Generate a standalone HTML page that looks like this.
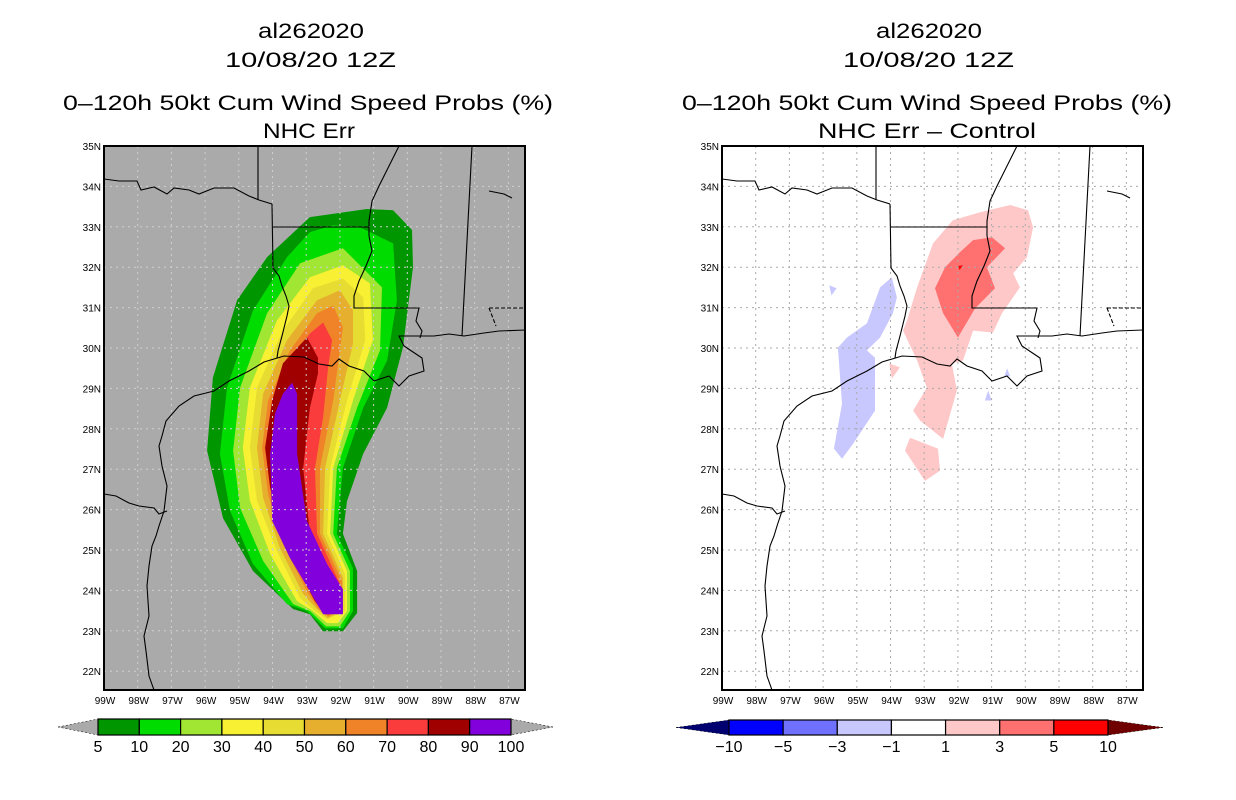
<!DOCTYPE html>
<html><head><meta charset="utf-8">
<style>
html,body{margin:0;padding:0;background:#fff;}
svg{display:block;font-family:"Liberation Sans",sans-serif;}
</style></head>
<body>
<svg id="fig" width="1236" height="800" viewBox="0 0 1236 800" xmlns="http://www.w3.org/2000/svg">
<g font-size="21" fill="#000" lengthAdjust="spacingAndGlyphs">
<text x="258" y="38" textLength="106" lengthAdjust="spacingAndGlyphs">al262020</text>
<text x="225" y="67" textLength="171" lengthAdjust="spacingAndGlyphs">10/08/20 12Z</text>
<text x="63" y="110" textLength="490" lengthAdjust="spacingAndGlyphs">0–120h 50kt Cum Wind Speed Probs (%)</text>
<text x="263" y="138" textLength="92" lengthAdjust="spacingAndGlyphs">NHC Err</text>
</g>
<g font-size="21" fill="#000">
<text x="876" y="38" textLength="106" lengthAdjust="spacingAndGlyphs">al262020</text>
<text x="843" y="67" textLength="171" lengthAdjust="spacingAndGlyphs">10/08/20 12Z</text>
<text x="682" y="110" textLength="490" lengthAdjust="spacingAndGlyphs">0–120h 50kt Cum Wind Speed Probs (%)</text>
<text x="818" y="138" textLength="218" lengthAdjust="spacingAndGlyphs">NHC Err – Control</text>
</g>
<g id="left"></g>
<g id="right"></g>
<g id="cbl"></g>
<g id="cbr"></g>
</svg>
<script>
// ---- data ----
const lonTicks=[-99,-98,-97,-96,-95,-94,-93,-92,-91,-90,-89,-88,-87];
const latTicks=[35,34,33,32,31,30,29,28,27,26,25,24,23,22];
const probLevels=[5,10,20,30,40,50,60,70,80,90,100];
const probColors=["#009600","#00dc00","#a0e632","#f8f032","#e6dc32","#e6af2d","#f08228","#fa3c3c","#a00000","#8200dc"];
const diffLevels=[-10,-5,-3,-1,1,3,5,10];
const diffColors=["#0000ff","#7070ff","#c8c8ff","#ffffff","#ffc8c8","#ff7070","#ff0000"];
const p5=[[-92.89,33.24],[-91.2,33.44],[-90.42,33.41],[-89.86,32.92],[-89.83,32.0],[-90.13,30.01],[-90.6,28.52],[-91.31,27.38],[-91.79,26.21],[-91.91,25.4],[-91.49,24.48],[-91.49,23.44],[-91.91,22.99],[-92.5,22.99],[-92.89,23.41],[-93.39,23.54],[-94.58,24.48],[-95.47,25.79],[-95.94,27.46],[-95.77,29.27],[-95.05,31.18],[-94.16,32.25]];
const p10=[[-92.2,33.04],[-91.4,32.99],[-90.42,32.59],[-90.31,31.18],[-90.6,29.69],[-91.31,28.52],[-91.91,27.03],[-92.09,25.4],[-91.61,24.55],[-91.61,23.49],[-91.91,23.06],[-92.44,23.06],[-92.98,23.49],[-93.57,23.66],[-94.58,24.65],[-95.26,25.97],[-95.56,27.38],[-95.35,29.02],[-94.58,30.93],[-93.57,32.25],[-92.89,32.87]];
const p20=[[-91.91,32.47],[-90.75,31.5],[-90.81,29.94],[-91.49,28.52],[-92.09,27.03],[-92.2,25.4],[-91.7,24.48],[-91.7,23.49],[-92.0,23.11],[-92.41,23.11],[-92.89,23.49],[-93.39,23.66],[-94.28,24.73],[-94.96,26.04],[-95.17,27.46],[-94.96,29.02],[-94.16,30.86],[-93.18,32.1]];
const p30=[[-91.91,32.05],[-91.11,31.6],[-91.02,30.19],[-91.61,28.7],[-92.2,27.03],[-92.29,25.4],[-91.79,24.48],[-91.79,23.49],[-92.06,23.19],[-92.38,23.19],[-92.8,23.49],[-93.27,23.73],[-94.07,24.9],[-94.67,26.22],[-94.88,27.53],[-94.67,29.02],[-93.87,30.68],[-92.89,31.75]];
const p40=[[-91.91,31.72],[-91.31,31.25],[-91.25,30.19],[-91.79,28.7],[-92.29,27.03],[-92.38,25.4],[-91.85,24.4],[-91.85,23.49],[-92.38,23.29],[-92.74,23.49],[-93.18,23.81],[-93.87,24.98],[-94.46,26.22],[-94.67,27.53],[-94.46,29.02],[-93.69,30.43],[-92.8,31.48]];
const p50=[[-92.0,31.43],[-91.61,30.93],[-91.61,30.11],[-92.0,28.7],[-92.44,27.03],[-92.5,25.4],[-91.91,24.31],[-91.91,23.54],[-92.35,23.31],[-92.68,23.54],[-93.09,23.91],[-93.78,25.05],[-94.28,26.29],[-94.46,27.53],[-94.28,28.87],[-93.57,30.19],[-92.68,31.18]];
const p60=[[-92.2,31.05],[-91.91,30.51],[-92.0,29.94],[-92.2,28.7],[-92.59,27.03],[-92.59,25.4],[-91.94,24.23],[-91.94,23.54],[-92.35,23.36],[-92.65,23.56],[-92.98,23.98],[-93.69,25.15],[-94.13,26.39],[-94.31,27.53],[-94.13,28.7],[-93.48,29.94],[-92.68,30.86]];
const p70=[[-92.5,30.63],[-92.23,30.19],[-92.35,29.52],[-92.5,28.28],[-92.74,27.03],[-92.68,25.4],[-92.0,24.16],[-92.0,23.54],[-92.35,23.39],[-92.59,23.61],[-92.89,24.06],[-93.54,25.22],[-93.98,26.39],[-94.22,27.53],[-94.01,28.7],[-93.48,29.69],[-92.89,30.36]];
const p80=[[-92.98,30.26],[-92.65,29.76],[-92.65,29.37],[-92.89,28.52],[-93.09,27.03],[-92.89,25.4],[-92.09,24.06],[-91.94,23.49],[-92.44,23.41],[-92.74,23.73],[-93.27,24.55],[-93.69,25.4],[-94.07,26.54],[-94.22,27.53],[-94.01,28.7],[-93.69,29.62]];
const p90=[[-93.42,29.14],[-93.27,28.87],[-93.27,27.38],[-92.98,25.72],[-92.38,24.65],[-91.91,24.03],[-91.91,23.41],[-92.5,23.41],[-92.89,23.98],[-93.48,24.8],[-94.01,25.72],[-94.07,27.38],[-93.93,28.37],[-93.69,28.87]];
const probPolys=[p5,p10,p20,p30,p40,p50,p60,p70,p80,p90];
const dNeg1=[[-93.96,31.75],[-93.81,31.25],[-93.93,30.86],[-94.31,30.26],[-94.7,29.94],[-94.46,29.76],[-94.46,28.45],[-95.11,27.63],[-95.44,27.26],[-95.68,27.51],[-95.44,28.62],[-95.56,30.01],[-95.29,30.26],[-94.7,30.61],[-94.31,31.5]];
const dNeg2=[[-95.82,31.55],[-95.6,31.48],[-95.75,31.3]];
const dNeg3=[[-90.54,29.5],[-90.45,29.3],[-90.62,29.3]];
const dNeg4=[[-91.1,28.95],[-91.0,28.7],[-91.2,28.7]];
const dPos1=[[-90.45,33.54],[-89.92,33.41],[-89.77,32.99],[-89.95,32.25],[-90.36,31.85],[-90.16,31.5],[-90.69,30.86],[-90.96,30.38],[-91.55,30.43],[-91.85,29.69],[-92.18,29.62],[-92.03,28.95],[-92.44,27.75],[-93.12,28.2],[-93.33,28.45],[-92.92,29.02],[-93.21,29.69],[-93.63,30.43],[-93.51,30.68],[-93.21,31.5],[-92.74,32.59],[-92.15,33.16],[-91.34,33.36]];
const dPos2=[[-94.04,29.62],[-93.72,29.52],[-93.96,29.24]];
const dPos3=[[-93.42,27.78],[-92.59,27.51],[-92.53,26.96],[-92.98,26.71],[-93.57,27.46]];
const dSal=[[-91.55,32.67],[-90.99,32.74],[-90.6,32.47],[-91.14,32.0],[-90.9,31.48],[-91.49,30.98],[-92.0,30.26],[-92.44,30.86],[-92.68,31.48],[-92.38,32.0],[-91.94,32.37]];
const dRed=[[-92.0,32.03],[-91.85,32.05],[-91.95,31.93]];
const diffPolys=[[dNeg1,2],[dNeg2,2],[dNeg3,2],[dNeg4,2],[dPos1,4],[dPos2,4],[dPos3,4],[dSal,5],[dRed,6]];

// ---- layout ----
const MAPW=421,MAPH=544,TOP=146;
const LON0=-99,LAT0=35,DX=33.7,DY=40.4;
function xs(x0,lon){return x0+(lon-LON0)*DX;}
function ys(lat){return TOP+(LAT0-lat)*DY;}
const NS="http://www.w3.org/2000/svg";
function mk(tag,attrs,parent){const e=document.createElementNS(NS,tag);for(const k in attrs)e.setAttribute(k,attrs[k]);parent.appendChild(e);return e;}

const geo=[
"M0,33 L15,35 L33,35 L37,44 L50,41 L63,48 L70,42 L85,44 L95,48 L110,42 L130,42 L145,50 L155,54 L168,58",
"M154,0 L154,54",
"M168,58 L169,122 L175,130 L178,140 L182,150 L185,160 L183,170 L178,190 L174,205 L173,212",
"M169,81 L265,81",
"M295,0 L285,20 L275,40 L268,55 L265,75 L265,90 L268,105 L262,120 L255,135 L250,150 L250,162 L315,162 L312,175 L318,185 L316,192",
"M368,0 L358,190",
"M50,544 L45,530 L42,505 L40,490 L45,470 L43,440 L45,420 L48,400 L52,390 L55,380 L60,365 L63,340 L58,320 L55,300 L58,290 L62,275 L75,260 L90,250 L110,245 L125,235 L145,225 L160,216 L180,210 L200,211 L215,218 L228,220 L235,213 L245,220 L260,225 L270,235 L285,230 L295,240 L305,230 L320,225 L318,212 L300,200 L295,190 L310,190 L330,190 L345,188 L360,190 L380,187 L395,185 L421,184",
"M0,348 L12,350 L25,357 L35,360 L50,362 L55,368 L63,365",
"M385,45 L400,48 L408,52"
];
const geoDash=["M385,162 L421,162","M385,162 L392,180"];

function polyStr(x0,pts){return pts.map(p=>xs(x0,p[0]).toFixed(1)+","+ys(p[1]).toFixed(1)).join(" ");}

function buildMap(g,x0,bg,polysDraw){
  const clipId="clip"+x0;
  const cp=mk("clipPath",{id:clipId},g);
  mk("rect",{x:x0,y:TOP,width:MAPW,height:MAPH},cp);
  const bgr=mk("rect",{x:x0,y:TOP,width:MAPW,height:MAPH,fill:bg},g);
  
  
  const inner=mk("g",{"clip-path":"url(#"+clipId+")"},g);
  polysDraw(inner);
  const grid=mk("g",{stroke:bg==="#ffffff"?"#aaaaaa":"#cfcfcf","stroke-width":1,"stroke-dasharray":"2,4"},inner);
  
  
  lonTicks.slice(1).forEach(l=>mk("line",{x1:xs(x0,l),x2:xs(x0,l),y1:TOP,y2:TOP+MAPH},grid));
  latTicks.slice(1).forEach(l=>mk("line",{x1:x0,x2:x0+MAPW,y1:ys(l),y2:ys(l)},grid));
  const gg=mk("g",{transform:"translate("+x0+","+TOP+")",fill:"none",stroke:"#000","stroke-width":1.1},inner);
  
  
  geo.forEach(d=>mk("path",{d:d},gg));
  geoDash.forEach(d=>mk("path",{d:d,"stroke-dasharray":"4,2"},gg));
  const fr=mk("rect",{x:x0,y:TOP,width:MAPW,height:MAPH,fill:"none",stroke:"#000","stroke-width":2},g);
  
  
  const tl=mk("g",{"font-size":"10","fill":"#000"},g);
  
  
  lonTicks.forEach(l=>{const t=mk("text",{x:xs(x0,l)+1,y:TOP+MAPH+14,"text-anchor":"middle"},tl);t.textContent=(-l)+"W";});
  latTicks.forEach(l=>{const t=mk("text",{x:x0-3,y:ys(l)+4,"text-anchor":"end"},tl);t.textContent=l+"N";});
}

buildMap(document.getElementById("left"),104,"#aaaaaa",inner=>{
  probPolys.forEach((pts,i)=>{
    const p=mk("polygon",{points:polyStr(104,pts),fill:probColors[i]},inner);
    
    
  });
});
buildMap(document.getElementById("right"),722,"#ffffff",inner=>{
  diffPolys.forEach((d,i)=>{
    const p=mk("polygon",{points:polyStr(722,d[0]),fill:diffColors[d[1]]},inner);
    
    
  });
});

function colorbar(g,x0,x1,tipL,tipR,y0,y1,cols,labels,lcol,rcol){
  const w=(x1-x0)/cols.length, ym=(y0+y1)/2;
  const a=mk("polygon",{points:`${tipL},${ym} ${x0},${y0} ${x0},${y1}`,fill:lcol,stroke:"#000","stroke-width":0.5,"stroke-dasharray":"2,2"},g);
  
  
  const b=mk("polygon",{points:`${tipR},${ym} ${x1},${y0} ${x1},${y1}`,fill:rcol,stroke:"#000","stroke-width":0.5,"stroke-dasharray":"2,2"},g);
  
  
  cols.forEach((c,i)=>{
    const r=mk("rect",{x:x0+i*w,y:y0,width:w,height:y1-y0,fill:c,stroke:"#000","stroke-width":1.2},g);
    
    
  });
  labels.forEach((l,i)=>{
    const t=mk("text",{x:x0+i*w,y:y1+17,"text-anchor":"middle","font-size":"16",fill:"#000"},g);
    
    
    t.textContent=l<0?"−"+(-l):String(l);
  });
}
colorbar(document.getElementById("cbl"),98,511,58,553,719,735,probColors,probLevels,"#aaaaaa","#aaaaaa");
colorbar(document.getElementById("cbr"),729,1108,676,1163,720,735,diffColors,diffLevels,"#000070","#700000");
</script>
</body></html>
